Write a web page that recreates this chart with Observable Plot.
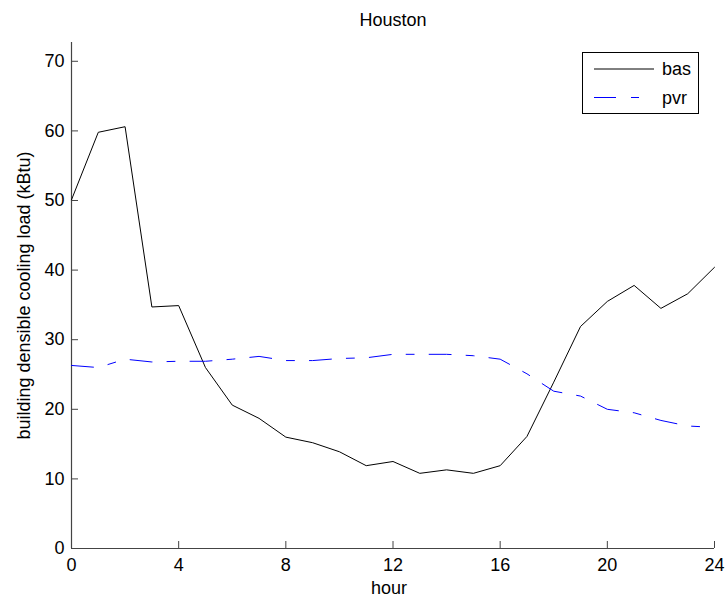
<!DOCTYPE html>
<html>
<head>
<meta charset="utf-8">
<script src="https://cdn.jsdelivr.net/npm/d3@7"></script>
<script src="https://cdn.jsdelivr.net/npm/@observablehq/plot@0.6"></script>
<style>
  html, body { margin: 0; padding: 0; background: #fff; }
  #wrap { position: relative; width: 725px; height: 598px; font-family: "Liberation Sans", Arial, sans-serif; }
</style>
</head>
<body>
<div id="wrap"></div>
<script>
const title = "Houston";
const xLabel = "hour";
const yLabel = "building densible cooling load (kBtu)";
const hours = [0,1,2,3,4,5,6,7,8,9,10,11,12,13,14,15,16,17,18,19,20,21,22,23,24];
const bas = [50.1,59.8,60.6,34.7,34.9,26.0,20.6,18.7,16.0,15.2,13.9,11.9,12.5,10.8,11.3,10.8,11.9,16.1,23.9,31.9,35.5,37.8,34.5,36.6,40.4];
const pvr = [26.3,26.0,27.2,26.8,26.9,26.9,27.2,27.6,27.0,27.0,27.3,27.4,27.9,27.9,27.9,27.7,27.2,25.1,22.6,21.9,20.0,19.5,18.4,17.6,17.4];
const xTicks = [0,4,8,12,16,20,24];
const yTicks = [0,10,20,30,40,50,60,70];
const seriesNames = ["bas", "pvr"];
const seriesColors = ["#000000", "#0000ff"];
const dash = "22,15,8,15";

const basData = hours.map((h, i) => ({hour: h, value: bas[i]}));
const pvrData = hours.map((h, i) => ({hour: h, value: pvr[i]}));

const axisColor = "#444";
const fontSize = 18;

const chart = Plot.plot({
  width: 725,
  height: 598,
  marginLeft: 71,
  marginRight: 11,
  marginTop: 42,
  marginBottom: 50,
  style: {fontFamily: '"Liberation Sans", Arial, sans-serif', fontSize: fontSize + "px", background: "#fff", color: "#000"},
  x: {domain: [0, 24]},
  y: {domain: [0, 72.7]},
  marks: [
    Plot.axisX({ticks: xTicks, tickSize: -7, tickPadding: 17, stroke: axisColor, fill: "#000", fontSize: fontSize, label: null}),
    Plot.axisY({ticks: yTicks, tickSize: -7, tickPadding: 14, stroke: axisColor, fill: "#000", fontSize: fontSize, label: null}),
    Plot.ruleY([0], {stroke: axisColor, strokeWidth: 1.2}),
    Plot.ruleX([0], {stroke: axisColor, strokeWidth: 1.2}),
    Plot.line(basData, {x: "hour", y: "value", stroke: seriesColors[0], strokeWidth: 1}),
    Plot.line(pvrData, {x: "hour", y: "value", stroke: seriesColors[1], strokeWidth: 1, strokeDasharray: dash}),
    Plot.text([title], {frameAnchor: "top", lineAnchor: "bottom", dy: -17, fontSize: fontSize, fill: "#000"}),
    Plot.text([xLabel], {frameAnchor: "bottom", lineAnchor: "bottom", dy: 45.5, dx: -4, fontSize: fontSize, fill: "#000"}),
    Plot.text([yLabel], {frameAnchor: "left", rotate: -90, textAnchor: "middle", lineAnchor: "middle", dx: -47, fontSize: fontSize, fill: "#000"})
  ]
});
document.getElementById("wrap").appendChild(chart);

// legend overlay
const ns = "http://www.w3.org/2000/svg";
const lg = document.createElementNS(ns, "svg");
lg.setAttribute("width", 118);
lg.setAttribute("height", 63);
lg.style.position = "absolute";
lg.style.left = "582px";
lg.style.top = "52px";
const box = document.createElementNS(ns, "rect");
box.setAttribute("x", 0.5); box.setAttribute("y", 0.5);
box.setAttribute("width", 116); box.setAttribute("height", 61);
box.setAttribute("fill", "#fff"); box.setAttribute("stroke", "#000"); box.setAttribute("stroke-width", 1);
lg.appendChild(box);
seriesNames.forEach((name, i) => {
  const yy = 17 + i * 28.5;
  const ln = document.createElementNS(ns, "line");
  ln.setAttribute("x1", 12); ln.setAttribute("x2", 72);
  ln.setAttribute("y1", yy); ln.setAttribute("y2", yy);
  ln.setAttribute("stroke", seriesColors[i]);
  ln.setAttribute("stroke-width", 1);
  if (i === 1) ln.setAttribute("stroke-dasharray", dash);
  lg.appendChild(ln);
  const tx = document.createElementNS(ns, "text");
  tx.setAttribute("x", 80); tx.setAttribute("y", yy);
  tx.setAttribute("dy", "0.35em");
  tx.setAttribute("font-family", '"Liberation Sans", Arial, sans-serif');
  tx.setAttribute("font-size", fontSize);
  tx.textContent = name;
  lg.appendChild(tx);
});
document.getElementById("wrap").appendChild(lg);
</script>
</body>
</html>
